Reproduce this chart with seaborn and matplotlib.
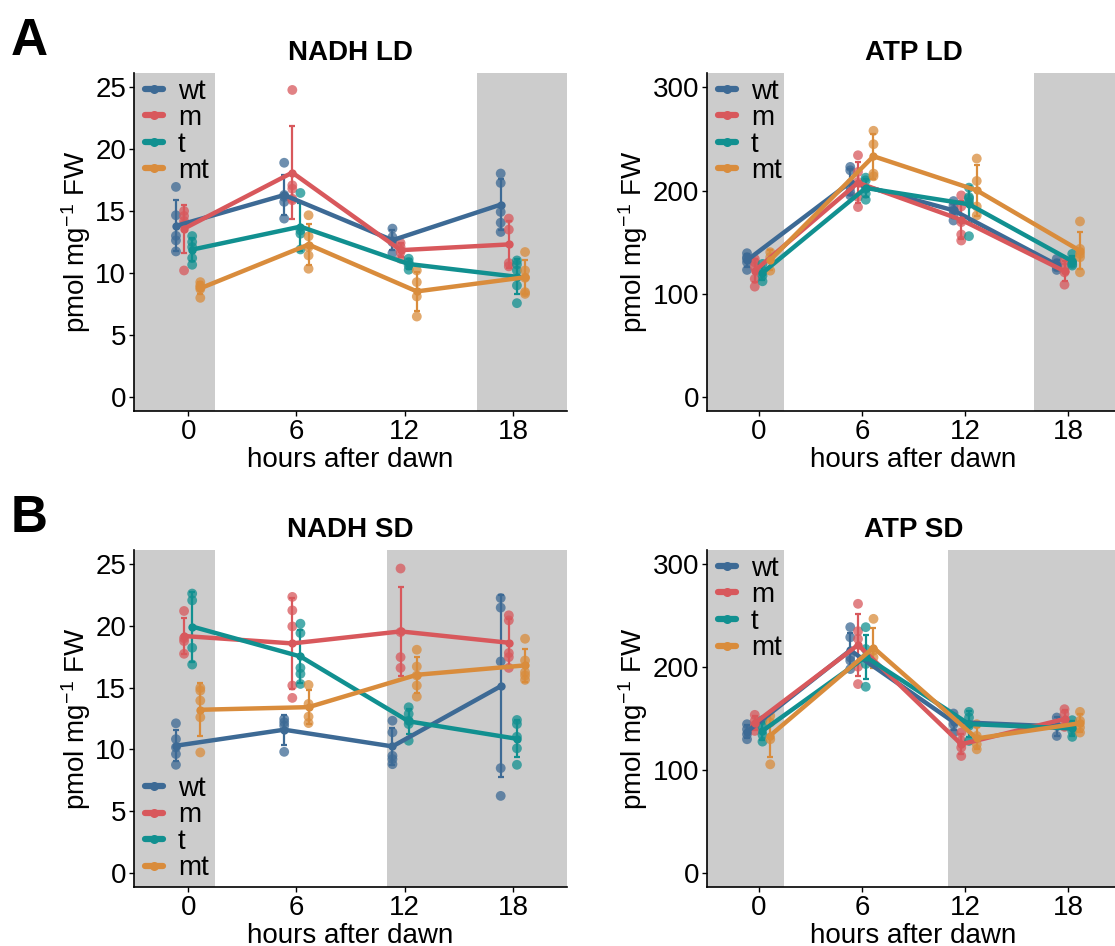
import numpy as np
import pandas as pd
import matplotlib
matplotlib.use("Agg")
import matplotlib.pyplot as plt
from matplotlib.lines import Line2D
import seaborn as sns

# ---------------- data ----------------
HOURS = [0, 6, 12, 18]
HOUR_TICKS = ["0", "6", "12", "18"]
GENOTYPES = ["wt", "m", "t", "mt"]
COLORS = ["#3D6A95", "#D8585C", "#119090", "#D98C3C"]

# NADH, long day (pmol mg-1 FW); one list of replicates per time point
NADH_LD_WT = [[16.95, 14.66, 13.0, 12.63, 11.74], [18.9, 16.3, 16.14, 15.74, 14.39],
              [13.58, 12.9, 12.5, 11.6], [18.03, 17.27, 14.93, 14.06, 13.31]]
NADH_LD_M = [[15.0, 14.6, 14.2, 13.9, 10.2], [24.78, 17.08, 16.8, 16.0, 15.87],
             [12.42, 12.1, 11.69, 11.15], [14.39, 13.5, 10.8, 10.53]]
NADH_LD_T = [[12.98, 12.5, 12.09, 11.2, 10.66], [16.46, 13.44, 13.17, 11.9],
             [11.15, 10.88, 10.6, 10.26], [11.01, 10.69, 10.2, 8.99, 7.56]]
NADH_LD_MT = [[9.26, 8.99, 8.85, 8.7, 7.99], [14.66, 12.96, 12.09, 11.42, 10.34],
              [10.2, 9.26, 8.1, 6.48], [11.69, 10.2, 9.61, 8.45, 8.31]]

# ATP, long day
ATP_LD_WT = [[139.3, 135.4, 133.8, 130.5, 123.1], [222.9, 219.6, 203.4, 198.6, 195.3],
             [189.8, 185.6, 180.8, 176.9, 171.0], [133.8, 129.6, 125.7, 123.1]]
ATP_LD_M = [[133.8, 130.5, 125.7, 114.4, 106.9], [234.2, 218.0, 208.3, 193.7, 184.0],
            [195.3, 184.6, 169.4, 157.4, 151.6], [132.2, 125.7, 120.8, 108.8]]
ATP_LD_T = [[128.9, 122.4, 117.6, 112.1], [212.5, 209.9, 201.8, 197.0, 191.1],
            [202.8, 193.7, 192.1, 188.9, 155.8], [138.6, 131.5, 128.9, 127.3]]
ATP_LD_MT = [[140.3, 135.4, 122.4], [257.9, 244.9, 216.4, 213.8],
             [231.0, 209.3, 184.6, 175.9], [170.1, 143.5, 138.6, 135.4, 120.8]]

# NADH, short day
NADH_SD_WT = [[12.11, 10.83, 10.16, 9.62, 8.75], [12.46, 12.19, 11.92, 9.8],
              [12.32, 11.38, 9.48, 9.21, 8.8], [22.26, 21.48, 17.12, 8.48, 6.23]]
NADH_SD_M = [[21.21, 19.01, 18.77, 17.74], [22.35, 21.26, 19.96, 15.17, 14.17],
             [24.65, 19.5, 17.47, 16.6], [20.86, 20.45, 17.8, 17.47, 16.6]]
NADH_SD_T = [[22.62, 22.07, 18.23, 16.87], [20.18, 19.42, 16.6, 16.12, 15.3],
             [13.41, 12.87, 12.32, 12.05, 10.7], [12.38, 12.05, 11.02, 10.08, 8.75]]
NADH_SD_MT = [[14.98, 14.76, 13.95, 12.6, 9.75], [15.22, 13.68, 12.65, 12.13],
              [18.07, 16.71, 15.98, 15.17, 14.27], [18.96, 17.2, 16.25, 15.98, 15.63]]

# ATP, short day
ATP_SD_WT = [[144.6, 139.7, 134.9, 130.0], [238.9, 229.1, 209.6, 206.4, 198.2],
             [155.0, 151.1, 144.6, 136.5], [151.1, 143.0, 133.2]]
ATP_SD_M = [[153.7, 147.9, 143.0, 138.1], [261.6, 235.0, 227.5, 200.5, 183.6],
            [136.5, 128.4, 121.9, 113.7], [159.2, 154.4, 143.0, 142.0]]
ATP_SD_T = [[148.5, 142.0, 134.2, 127.7], [238.9, 217.7, 209.6, 203.1, 181.0],
            [156.6, 151.1, 143.0, 128.4], [148.5, 143.0, 138.1, 132.3]]
ATP_SD_MT = [[152.7, 146.2, 130.0, 105.6], [247.0, 216.1, 209.6, 203.1],
             [144.6, 133.2, 125.1, 120.2], [156.6, 147.9, 141.4, 136.5]]

# dark periods (hours after dawn where the shading ends / starts)
DARK_LD = (1.5, 16.0)
DARK_SD = (1.5, 11.0)

# ---------------- style ----------------
sns.set_style("ticks")
plt.rcParams["font.family"] = ["Liberation Sans", "DejaVu Sans"]
plt.rcParams["mathtext.fontset"] = "custom"
plt.rcParams["mathtext.rm"] = "Liberation Sans"
plt.rcParams["mathtext.it"] = "Liberation Sans:italic"
plt.rcParams["mathtext.bf"] = "Liberation Sans:bold"
plt.rcParams["mathtext.default"] = "regular"
for key in ["text.color", "axes.labelcolor", "xtick.color", "ytick.color",
            "axes.edgecolor"]:
    plt.rcParams[key] = "black"

FS = 20
DODGE_STEP = 0.45
XLIM = (-3.0, 21.0)
SHADE = "#CCCCCC"
palette = dict(zip(GENOTYPES, COLORS))


def build_frame(series):
    rows = []
    for gi, (g, per_time) in enumerate(zip(GENOTYPES, series)):
        off = (gi - (len(GENOTYPES) - 1) / 2) * DODGE_STEP
        for h, reps in zip(HOURS, per_time):
            for v in reps:
                rows.append({"hour": h, "xd": h + off, "genotype": g, "value": v})
    return pd.DataFrame(rows)


def draw_panel(ax, series, title, ylim, yticks, dark, legend_loc):
    df = build_frame(series)
    ax.axvspan(XLIM[0], dark[0], color=SHADE, lw=0, zorder=0)
    ax.axvspan(dark[1], XLIM[1], color=SHADE, lw=0, zorder=0)
    sns.scatterplot(data=df, x="xd", y="value", hue="genotype", hue_order=GENOTYPES,
                    palette=palette, s=50, alpha=0.75, linewidth=0, legend=False,
                    ax=ax, zorder=2)
    sns.lineplot(data=df, x="xd", y="value", hue="genotype", hue_order=GENOTYPES,
                 palette=palette, estimator="mean", errorbar="sd", err_style="bars",
                 err_kws={"capsize": 2.2, "elinewidth": 1.6, "capthick": 1.6},
                 marker="o", markersize=6, markeredgewidth=0, linewidth=3.2,
                 legend=False, ax=ax, zorder=3)
    ax.set_xlim(*XLIM)
    ax.set_ylim(*ylim)
    ax.set_xticks(HOURS)
    ax.set_xticklabels(HOUR_TICKS)
    ax.set_yticks(yticks)
    ax.set_xlabel("hours after dawn", fontsize=FS, labelpad=2)
    ax.set_ylabel("pmol mg$^{-1}$ FW", fontsize=FS, labelpad=2)
    ax.set_title(title, fontsize=FS, fontweight="bold", pad=9.5, color="black")
    ax.tick_params(axis="both", labelsize=FS, length=3.5, width=1.0, color="black",
                   labelcolor="black", pad=2)
    for sp in ["left", "bottom"]:
        ax.spines[sp].set_linewidth(1.2)
        ax.spines[sp].set_color("black")
    sns.despine(ax=ax)
    ax.set_facecolor("white")

    handles = [Line2D([], [], color=c, lw=4.5, marker="o", markersize=6.5,
                      markeredgewidth=0) for c in COLORS]
    if legend_loc == "upper left":
        anchor = (0.012, 1.0)
    else:
        anchor = (0.012, 0.0)
    ax.legend(handles, GENOTYPES, loc=legend_loc, bbox_to_anchor=anchor,
              frameon=False, fontsize=FS, handlelength=0.65, handletextpad=0.55,
              labelspacing=0.02, borderpad=0.2, borderaxespad=0.0)


fig = plt.figure(figsize=(11.15, 9.46), dpi=100)
W, H = 1115.0, 946.0


def axes_px(left, top, right, bottom):
    return fig.add_axes([left / W, 1 - bottom / H, (right - left) / W, (bottom - top) / H])


ax1 = axes_px(134, 73, 567, 411)
ax2 = axes_px(707, 73, 1120, 411)
ax3 = axes_px(134, 550, 567, 887)
ax4 = axes_px(707, 550, 1120, 887)

NADH_LIM = (-1.15, 26.15)
ATP_LIM = (-13.6, 313.9)
NADH_TICKS = [0, 5, 10, 15, 20, 25]
ATP_TICKS = [0, 100, 200, 300]

draw_panel(ax1, [NADH_LD_WT, NADH_LD_M, NADH_LD_T, NADH_LD_MT], "NADH LD",
           NADH_LIM, NADH_TICKS, DARK_LD, "upper left")
draw_panel(ax2, [ATP_LD_WT, ATP_LD_M, ATP_LD_T, ATP_LD_MT], "ATP LD",
           ATP_LIM, ATP_TICKS, DARK_LD, "upper left")
draw_panel(ax3, [NADH_SD_WT, NADH_SD_M, NADH_SD_T, NADH_SD_MT], "NADH SD",
           NADH_LIM, NADH_TICKS, DARK_SD, "lower left")
draw_panel(ax4, [ATP_SD_WT, ATP_SD_M, ATP_SD_T, ATP_SD_MT], "ATP SD",
           ATP_LIM, ATP_TICKS, DARK_SD, "upper left")

fig.text(11 / W, 1 - 55 / H, "A", fontsize=37, fontweight="bold", va="baseline", ha="left")
fig.text(11 / W, 1 - 532 / H, "B", fontsize=37, fontweight="bold", va="baseline", ha="left")

fig.savefig("out.png", dpi=100, facecolor="white")
